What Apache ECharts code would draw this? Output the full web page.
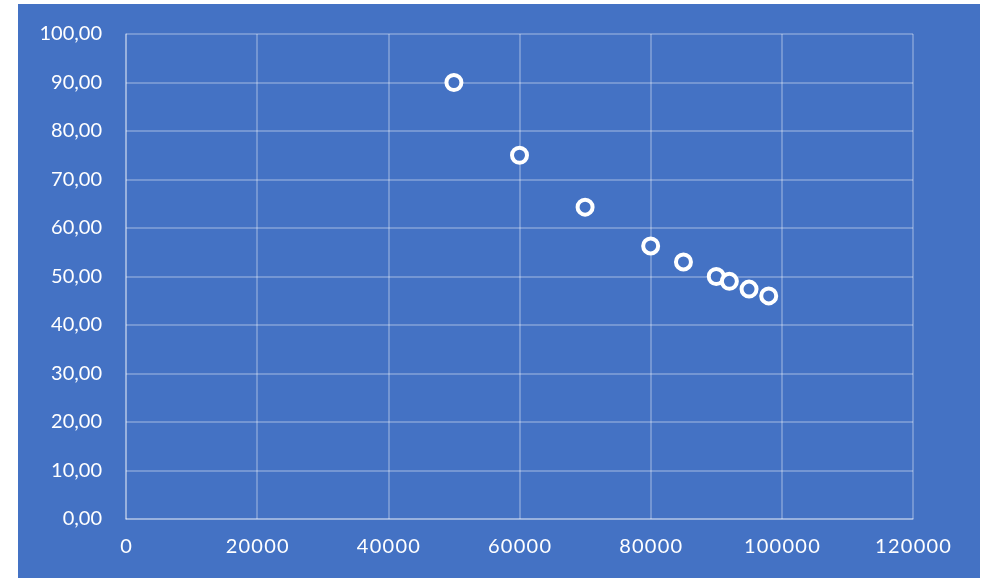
<!DOCTYPE html>
<html><head><meta charset="utf-8">
<script src="https://cdn.jsdelivr.net/npm/echarts@6/dist/echarts.min.js"></script>
<style>
html,body{margin:0;padding:0;background:#fff;width:984px;height:578px;overflow:hidden;}
#c{position:absolute;left:18px;top:4px;width:962px;height:574px;background:#4472C4;}
</style></head><body>
<div id="c"></div>
<script>
const xValues = [50000, 60000, 70000, 80000, 85000, 90000, 92000, 95000, 98000];
const yValues = [90.0, 75.0, 64.3, 56.3, 53.0, 50.0, 49.0, 47.4, 46.0];
const gridColor = 'rgba(255,255,255,0.35)';
const chart = echarts.init(document.getElementById('c'));
chart.setOption({
  backgroundColor: '#4472C4',
  animation: false,
  grid: {left: 108, top: 30, right: 67, bottom: 59},
  xAxis: {
    type: 'value', min: 0, max: 120000, interval: 20000,
    axisLine: {show: true, lineStyle: {color: gridColor, width: 1.5}},
    axisTick: {show: false},
    splitLine: {show: true, lineStyle: {color: gridColor, width: 1.5}},
    axisLabel: {color: '#fff', fontSize: 20, fontFamily: 'Lato', margin: 18,
      formatter: v => String(v).split('').join('\u200A')}
  },
  yAxis: {
    type: 'value', min: 0, max: 100, interval: 10,
    axisLine: {show: true, lineStyle: {color: gridColor, width: 1.5}},
    axisTick: {show: false},
    splitLine: {show: true, lineStyle: {color: gridColor, width: 1.5}},
    axisLabel: {color: '#fff', fontSize: 20, fontFamily: 'Lato', margin: 24,
      formatter: v => v.toFixed(2).replace('.', ',')}
  },
  series: [{
    type: 'scatter',
    data: xValues.map((x, i) => [x, yValues[i]]),
    symbol: 'circle', symbolSize: 15,
    itemStyle: {color: '#4472C4', borderColor: '#fff', borderWidth: 4, opacity: 1}
  }]
});
</script></body></html>
